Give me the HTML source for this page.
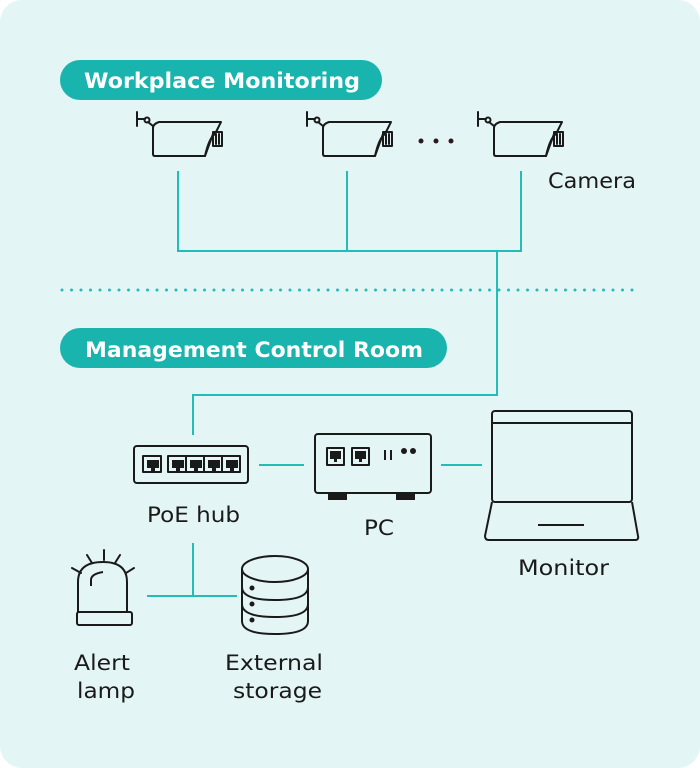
<!DOCTYPE html>
<html><head><style>
body{margin:0;background:#fff;}
svg{display:block;font-family:"DejaVu Sans","Liberation Sans",sans-serif;}
</style></head><body>
<svg width="700" height="768" viewBox="0 0 700 768" xmlns="http://www.w3.org/2000/svg">
<rect x="0" y="0" width="700" height="768" rx="22" fill="#e4f5f6"/>
<defs>
<g id="cam" fill="none" stroke="#1a1a1a" stroke-width="2" stroke-linejoin="round" stroke-linecap="round">
<path d="M0 0 V14 M0 7 H8"/><circle cx="10" cy="8" r="2.5"/>
<path d="M11 10 L16 14"/>
<path d="M22 10 H84 L78 22 Q72 26 68 44 H18 Q16 44 16 42 V16 Q16 12 22 10 Z"/>
<path d="M68 44 L76 22 H78"/>
<rect x="76" y="20" width="9" height="14" />
<path d="M79 22 V32 M82 22 V32"/>
</g>
</defs>
<rect x="60" y="60" width="322" height="40" rx="20" fill="#19b4ae"/>
<text x="84" y="88" fill="#fff" font-size="21" font-weight="bold" textLength="276" lengthAdjust="spacingAndGlyphs">Workplace Monitoring</text>
<use href="#cam" x="137" y="112"/>
<use href="#cam" x="307" y="112"/>
<use href="#cam" x="478" y="112"/>
<g fill="#2a1a1a"><circle cx="421" cy="141" r="2.5"/><circle cx="436" cy="141" r="2.5"/><circle cx="451" cy="141" r="2.5"/></g>
<text x="548" y="188" font-size="21" fill="#1a1a1a" textLength="88" lengthAdjust="spacingAndGlyphs">Camera</text>
<g stroke="#22bdb6" stroke-width="2" fill="none">
<path d="M178 171 V251 H521 V171 M347 171 V251 M497 251 V395 H193 V435"/>
<path d="M259 465 H304 M441 465 H482 M193 543 V596 M147 596 H237"/>
<line x1="62" y1="290" x2="640" y2="290" stroke-width="3" stroke-dasharray="0 9.5" stroke-linecap="round"/>
</g>
<rect x="60" y="328" width="387" height="40" rx="20" fill="#19b4ae"/>
<text x="85" y="357" fill="#fff" font-size="21" font-weight="bold" textLength="338" lengthAdjust="spacingAndGlyphs">Management Control Room</text>
<g fill="none" stroke="#1a1a1a" stroke-width="2" stroke-linejoin="round">
<rect x="134" y="446" width="114" height="37" rx="3"/>
<rect x="143" y="456" width="18" height="16"/>
<rect x="168" y="456" width="72" height="16"/>
<path d="M186 456 V472 M204 456 V472 M222 456 V472"/>
<rect x="315" y="434" width="116" height="59" rx="3"/>
<rect x="327" y="448" width="17" height="17"/><rect x="352" y="448" width="17" height="17"/>
<path d="M385 450 V460 M391 450 V460"/>
<rect x="492" y="411" width="140" height="91" rx="3"/>
<path d="M492 423 H632"/>
<path d="M492 502 L485 536 Q485 540 489 540 H635 Q639 540 638 536 L632 502"/>
<path d="M538 525 H584"/>
<path d="M78 613 V582 Q78 562 103 562 Q127 562 127 582 V613"/>
<path d="M91 586 V580 Q91 574 103 572"/>
<rect x="77" y="612" width="55" height="13" rx="2"/>
<path d="M104 550 V560 M87 555 L92 563 M120 555 L115 563 M72 568 L81 573 M134 568 L126 573" stroke-linecap="round"/>
<ellipse cx="275" cy="569" rx="33" ry="13"/>
<path d="M242 569 V621 Q242 634 275 634 Q308 634 308 621 V569"/>
<path d="M242 587 Q242 600 275 600 Q308 600 308 587"/>
<path d="M242 604 Q242 617 275 617 Q308 617 308 604"/>
</g>
<g fill="#1a1a1a">
<path d="M147 460h12v8h-4v3h-4v-3h-4z"/>
<path d="M172 460h12v8h-4v3h-4v-3h-4z"/>
<path d="M190 460h12v8h-4v3h-4v-3h-4z"/>
<path d="M208 460h12v8h-4v3h-4v-3h-4z"/>
<path d="M226 460h12v8h-4v3h-4v-3h-4z"/>
<path d="M330 451h11v8h-4v3h-3v-3h-4z"/>
<path d="M355 451h11v8h-4v3h-3v-3h-4z"/>
<circle cx="404" cy="451" r="3"/><circle cx="413" cy="451" r="3"/>
<rect x="328" y="494" width="19" height="6"/><rect x="396" y="494" width="19" height="6"/>
<circle cx="252" cy="588" r="2.5"/><circle cx="252" cy="604" r="2.5"/><circle cx="252" cy="620" r="2.5"/>
</g>
<g font-size="21" fill="#1a1a1a">
<text x="147" y="522" textLength="93" lengthAdjust="spacingAndGlyphs">PoE hub</text>
<text x="364" y="535" textLength="30" lengthAdjust="spacingAndGlyphs">PC</text>
<text x="518" y="575" textLength="91" lengthAdjust="spacingAndGlyphs">Monitor</text>
<text x="74" y="670" textLength="56" lengthAdjust="spacingAndGlyphs">Alert</text>
<text x="77" y="698" textLength="58" lengthAdjust="spacingAndGlyphs">lamp</text>
<text x="225" y="670" textLength="98" lengthAdjust="spacingAndGlyphs">External</text>
<text x="233" y="698" textLength="89" lengthAdjust="spacingAndGlyphs">storage</text>
</g>
</svg>
</body></html>
